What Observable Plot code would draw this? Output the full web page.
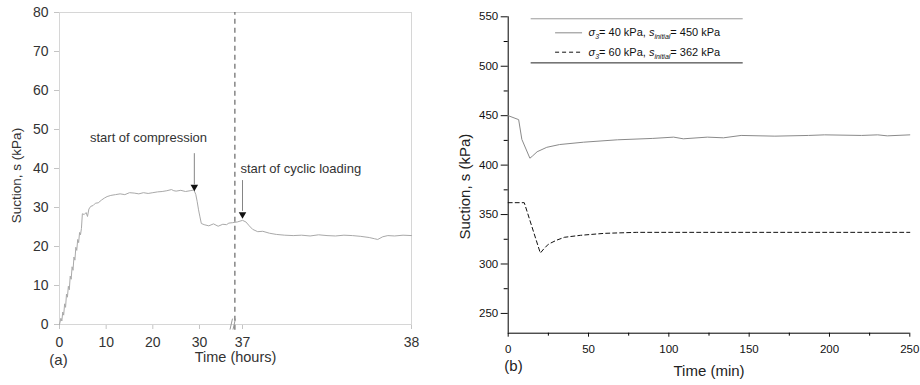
<!DOCTYPE html>
<html><head><meta charset="utf-8">
<script src="https://cdn.jsdelivr.net/npm/d3@7"></script>
<script src="https://cdn.jsdelivr.net/npm/@observablehq/plot@0.6"></script>
<style>
body{margin:0;background:#fff;}
#wrap{position:relative;width:920px;height:385px;overflow:hidden;background:#fff;}
#pa{position:absolute;left:0;top:0;}
#pb{position:absolute;left:440px;top:0;}
#pa [aria-label="x-axis tick"], #pa [aria-label="y-axis tick"]{stroke:#c4c4c4;}
</style></head><body>
<div id="wrap"><div id="pa"></div><div id="pb"></div></div>
<script>
// ---- Panel (a) data ----
const timeA = [0,0.3,0.5,0.7,0.9,1.1,1.3,1.5,1.7,1.9,2.1,2.3,2.5,2.7,2.9,3.1,3.3,3.5,3.7,3.9,4.1,4.3,4.5,4.7,4.9,5.3,5.7,6.0,6.3,6.7,7.2,7.7,8.3,9.0,9.6,10.2,11,12,13,14,15,16,17,18,19,20,21,22,23,24,24.5,25,26,27,28,28.8,29.2,29.5,29.8,30.1,30.4,31,32,33,34,35,35.8,36.3,36.6,36.8,37.0,37.02,37.04,37.06,37.09,37.12,37.16,37.2,37.25,37.3,37.35,37.4,37.45,37.5,37.55,37.6,37.65,37.7,37.75,37.78,37.8,37.83,37.86,37.9,37.95,38];
const suctionA = [0,1.6,0.9,3.2,2.4,5.3,4.4,7.8,7.0,9.8,8.9,12.4,11.6,14.8,13.9,17.3,16.5,19.8,19.0,21.8,21.0,23.6,23.0,24.6,28.4,28.2,28.7,27.7,29.6,30.3,30.5,31.1,31.2,31.9,32.4,32.8,33.1,33.3,33.5,33.3,33.8,33.7,33.5,33.8,33.6,33.8,34.0,34.1,34.3,34.6,34.3,34.2,34.4,34.1,34.3,34.5,33.4,31.6,29.4,27.6,25.9,25.6,25.3,25.8,25.2,25.7,25.6,26.0,26.1,26.3,26.7,26.3,25.3,24.4,23.8,23.9,23.4,23.1,22.9,22.8,22.9,22.7,23.0,22.8,22.7,22.9,22.8,22.6,22.3,22.0,21.8,22.5,22.8,22.7,22.9,22.8];
const xTicksA = [0,10,20,30,37,38];
const yTicksA = [0,10,20,30,40,50,60,70,80];
const annotationsA = ["start of compression","start of cyclic loading"];

// ---- Panel (b) data ----
const timeB1 = [0,6.5,8.5,13.5,15,18,24,32,47,68,90,103,109,124,134,145,166,187,197,220,230,236,250];
const suctionB1 = [450,446,426,407,409,413.5,418,420.8,423.2,425.6,427,428.3,426.6,428.3,427.6,430,429.3,430,430.6,430,430.6,429.6,430.6];
const timeB2 = [0,10,20,22,25,30,35,45,60,80,250];
const suctionB2 = [362,362,311,315,320,324,327,329,331,332,332];
const xTicksB = [0,50,100,150,200,250];
const xMinorB = [25,75,125,175,225];
const yTicksB = [250,300,350,400,450,500,550];
const yMinorB = [275,325,375,425,475,525];
const legendSigma = ["40","60"];
const legendInitial = ["450","362"];

const FONT = '"Liberation Sans", Arial, Helvetica, sans-serif';

const dataA = timeA.map((t,i)=>({t, s: suctionA[i]}));
const breakMarks = [
  {x1:36.508, y1:-1.3, x2:36.606, y2:1.5},
  {x1:36.626, y1:-1.3, x2:36.724, y2:1.5}
];

const pa = Plot.plot({
  width:440, height:385, marginLeft:59, marginRight:29, marginTop:12, marginBottom:61,
  style:{fontFamily:FONT, fontSize:"14px", color:"#333", background:"transparent", overflow:"visible"},
  x:{type:"linear", domain:[0,36.5,37,38], range:[59,229.3,242,411], ticks:xTicksA, tickSize:5, tickPadding:8, label:null},
  y:{domain:[0,80], ticks:yTicksA, tickSize:5, tickPadding:6, label:null},
  marks:[
    Plot.frame({stroke:"#d6d6d6"}),
    Plot.line(dataA, {x:"t", y:"s", stroke:"#a9a9a9", strokeWidth:1}),
    Plot.ruleX([36.7], {y1:-1.5, y2:80, stroke:"#666", strokeWidth:1.2, strokeDasharray:"5,4"}),
    Plot.link(breakMarks, {x1:"x1", y1:"y1", x2:"x2", y2:"y2", stroke:"#999", strokeWidth:1}),
    Plot.ruleX([28.9], {y1:43.8, y2:35.8, stroke:"#666", strokeWidth:0.8}),
    Plot.ruleX([37], {y1:36.9, y2:29, stroke:"#666", strokeWidth:0.8}),
    Plot.dot([[28.9,35.3],[37,28.2]], {x:d=>d[0], y:d=>d[1], symbol:"triangle", rotate:180, r:2.8, fill:"#111", stroke:null}),
    Plot.text([annotationsA[0]], {x:19.07, y:47.8, fontSize:13, fill:"#333"}),
    Plot.text([annotationsA[1]], {x:36.92, y:39.9, textAnchor:"start", fontSize:13, fill:"#333"}),
    Plot.text(["Suction, s (kPa)"], {x:0, y:38.2, dx:-43, rotate:-90, fontSize:13.5, fill:"#333"}),
    Plot.text(["(a)"], {x:0, y:0, dx:-1, dy:36, fontSize:15, fill:"#333"}),
    Plot.text(["Time (hours)"], {frameAnchor:"bottom", lineAnchor:"middle", dy:33, fontSize:14.5, fill:"#333"})
  ]
});
document.getElementById("pa").appendChild(pa);

const dataB1 = timeB1.map((t,i)=>({t, s: suctionB1[i]}));
const dataB2 = timeB2.map((t,i)=>({t, s: suctionB2[i]}));
const legendLabels = legendSigma.map((s,i)=>`σ3= ${s} kPa, sinitial= ${legendInitial[i]} kPa`);
const legendY = [533.8, 514.2];

const pb = Plot.plot({
  width:480, height:385, marginLeft:67.7, marginRight:10.7, marginTop:16.3, marginBottom:52.3,
  style:{fontFamily:FONT, fontSize:"11.5px", color:"#111", background:"transparent", overflow:"visible"},
  x:{domain:[0,250], ticks:xTicksB, tickSize:4, tickPadding:8, label:null},
  y:{domain:[230,550], ticks:yTicksB, tickSize:7, tickPadding:3, label:null},
  marks:[
    Plot.ruleX([0], {y1:230, y2:550, stroke:"#000"}),
    Plot.ruleY([230], {x1:0, x2:250, stroke:"#000"}),
    Plot.ruleX(xMinorB, {y1:230, y2:227, stroke:"#000"}),
    Plot.ruleY(yMinorB, {x1:0, x2:-2.5, stroke:"#000"}),
    Plot.line(dataB1, {x:"t", y:"s", stroke:"#8a8a8a", strokeWidth:1}),
    Plot.line(dataB2, {x:"t", y:"s", stroke:"#111", strokeWidth:1, strokeDasharray:"4,3"}),
    Plot.ruleY([548], {x1:14.3, x2:146.3, stroke:"#9a9a9a"}),
    Plot.ruleY([503.4], {x1:14.3, x2:146.3, stroke:"#222"}),
    Plot.ruleY([legendY[0]], {x1:29.5, x2:46.3, stroke:"#8a8a8a"}),
    Plot.ruleY([legendY[1]], {x1:29.5, x2:46.3, stroke:"#111", strokeDasharray:"4,3"}),
    Plot.text(legendLabels, {x:50, y:(d,i)=>legendY[i], textAnchor:"start", fontSize:11, fill:"#111"}),
    Plot.text(["Suction, s (kPa)"], {x:0, y:378.2, dx:-43, rotate:-90, fontSize:15, fontWeight:"normal", fill:"#222"}),
    Plot.text(["(b)"], {x:3.3, y:230, dy:33, fontSize:15, fontWeight:"normal", fill:"#222"}),
    Plot.text(["Time (min)"], {frameAnchor:"bottom", lineAnchor:"middle", dy:38, fontSize:15, fontWeight:"normal", fill:"#222"})
  ]
});
document.getElementById("pb").appendChild(pb);

// subscripts / italics for legend entries
d3.select(pb).selectAll("text").each(function(){
  const m = /^σ3= (\d+) kPa, sinitial= (\d+) kPa$/.exec(this.textContent);
  if (!m) return;
  const el = d3.select(this);
  el.text(null);
  el.append("tspan").attr("font-style","italic").text("σ");
  el.append("tspan").attr("font-style","italic").attr("font-size","7").attr("dy","3").text("3");
  el.append("tspan").attr("dy","-3").text(`= ${m[1]} kPa, `);
  el.append("tspan").attr("font-style","italic").text("s");
  el.append("tspan").attr("font-style","italic").attr("font-size","7").attr("dy","3").text("initial");
  el.append("tspan").attr("dy","-3").text(`= ${m[2]} kPa`);
});
</script></body></html>
